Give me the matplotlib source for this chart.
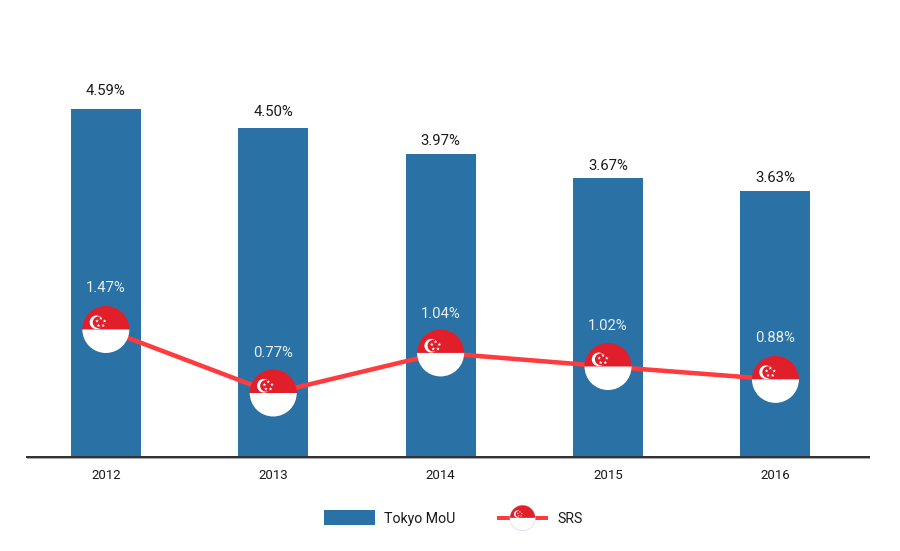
import matplotlib
matplotlib.use("Agg")
import matplotlib.pyplot as plt
import matplotlib.patches as mp
from matplotlib.path import Path
from matplotlib.legend_handler import HandlerBase
from matplotlib.lines import Line2D
from matplotlib.offsetbox import AnnotationBbox, DrawingArea
from matplotlib.transforms import Affine2D, ScaledTranslation
import numpy as np

years = ["2012", "2013", "2014", "2015", "2016"]
# plotted heights; the printed labels differ from them in the source
tokyo_heights = [4.59, 4.34, 4.00, 3.68, 3.51]
srs_heights = [1.68, 0.84, 1.37, 1.19, 1.02]
tokyo_labels = ["4.59%", "4.50%", "3.97%", "3.67%", "3.63%"]
srs_labels = ["1.47%", "0.77%", "1.04%", "1.02%", "0.88%"]
tokyo_label_gap_px = [18, 16, 13, 12, 13]
srs_label_gap_px = [41, 40, 39, 41, 41]

BLUE = "#2A72A5"
RED_LINE = "#FF3B3F"
FLAG_RED = "#E01F2B"
FONT = "Roboto"
PX = 0.72

plt.rcParams["font.family"] = [FONT, "DejaVu Sans"]
fig = plt.figure(figsize=(9, 5.51), dpi=100)
ax = fig.add_axes([27 / 900, (551 - 456.5) / 551, 842 / 900, 456.5 / 551])
ax.set_xlim(-0.471, 4.559)
ax.set_ylim(0, 456.5 / 75.6)
x = np.arange(len(years))


def flag_patches(r):
    """Singapore-flag disc centred on (0,0), radius r in points."""
    out = [
        mp.Wedge((0, 0), r, 0, 180, fc=FLAG_RED, ec="none"),
        mp.Wedge((0, 0), r, 180, 360, fc="white", ec="none"),
    ]
    k = r / 23.5
    out.append(mp.Circle((-13 * k * PX, 10 * k * PX), 9.5 * k * PX, fc="white", ec="none"))
    out.append(mp.Circle((-10 * k * PX, 10 * k * PX), 8.2 * k * PX, fc=FLAG_RED, ec="none"))
    star = Path.unit_regular_star(5, 0.45)
    for a in np.deg2rad(90 + 72 * np.arange(5)):
        c = (-7 + 5.5 * np.cos(a), 10 + 5.5 * np.sin(a))
        t = Affine2D().scale(2.5 * k * PX).translate(c[0] * k * PX, c[1] * k * PX)
        out.append(mp.PathPatch(t.transform_path(star), fc="white", ec="none"))
    return out


bars = ax.bar(x, tokyo_heights, width=70 / 167.4, color=BLUE, label="Tokyo MoU", zorder=2)
line, = ax.plot(x, srs_heights, color=RED_LINE, lw=4.5 * PX, label="SRS", zorder=3,
                solid_capstyle="butt")

R = 23.5 * PX
for xi, yi in zip(x, srs_heights):
    da = DrawingArea(2 * R, 2 * R, R, R)
    for p in flag_patches(R):
        da.add_artist(p)
    ab = AnnotationBbox(da, (xi, yi), xycoords="data", frameon=False,
                        box_alignment=(0.5, 0.5), pad=0, annotation_clip=False)
    ab.set_zorder(4)
    ax.add_artist(ab)

for xi, h, lab, g in zip(x, tokyo_heights, tokyo_labels, tokyo_label_gap_px):
    ax.annotate(lab, (xi, h), xytext=(0, g * PX), textcoords="offset points",
                ha="center", va="center", fontsize=10.7, color="#1a1a1a", zorder=5)
for xi, h, lab, g in zip(x, srs_heights, srs_labels, srs_label_gap_px):
    ax.annotate(lab, (xi, h), xytext=(0, g * PX), textcoords="offset points",
                ha="center", va="center", fontsize=10.7, color="#E8EEF4", zorder=5)

ax.set_xticks(x, years)
ax.tick_params(axis="x", length=0, pad=9, labelsize=9.5, labelcolor="#1a1a1a")
ax.set_yticks([])
for s in ("top", "left", "right"):
    ax.spines[s].set_visible(False)
ax.spines["bottom"].set_linewidth(2 * PX)
ax.spines["bottom"].set_color("#333333")
ax.spines["bottom"].set_zorder(6)
ax.patch.set_alpha(0)
# pale shadow under the axis
ax.plot([0, 1], [0, 0], color="#A8A8A8", lw=1 * PX, clip_on=False, zorder=5,
        transform=ax.transAxes + ScaledTranslation(0, -1.5 / 100, fig.dpi_scale_trans))


class FlagHandler(HandlerBase):
    def create_artists(self, legend, orig, xd, yd, w, h, fs, trans):
        cy = h / 2 - yd
        ln = Line2D([-xd, w - xd], [cy, cy], color=RED_LINE, lw=4 * PX, transform=trans,
                    solid_capstyle="butt")
        arts = [ln]
        r = 12.5 * PX
        base = Affine2D().translate(w / 2 - xd, cy) + trans
        arts.append(mp.Circle((0, 0), r, fc="white", ec="#C9CCDA", lw=0.7, transform=base))
        for p in flag_patches(r):
            p.set_transform(base)
            arts.append(p)
        return arts


fig.legend([bars, line], ["Tokyo MoU", "SRS"], ncol=2, loc="center left",
           bbox_to_anchor=(324 / 900, 1 - 518 / 551), frameon=False, fontsize=10.2,
           handlelength=3.6, handleheight=1.27, handletextpad=0.64, columnspacing=2.95,
           borderpad=0, borderaxespad=0, labelcolor="#1a1a1a",
           handler_map={line: FlagHandler()})

fig.savefig("out.png", dpi=100, facecolor="white")
